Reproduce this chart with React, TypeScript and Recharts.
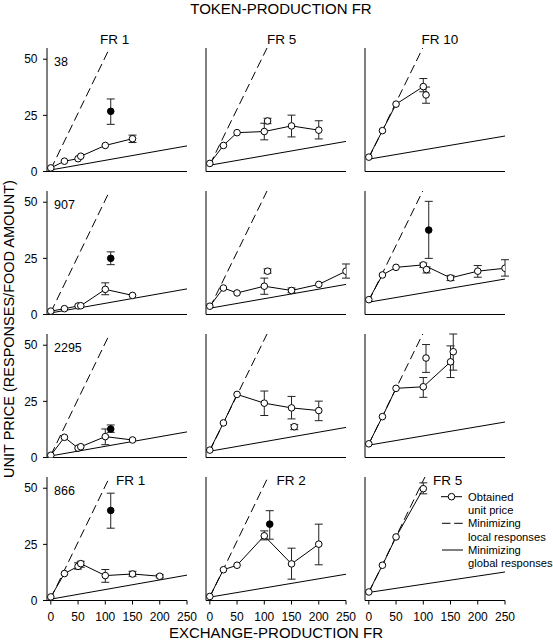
import { ComposedChart, ErrorBar, Line, Scatter, XAxis, YAxis } from "recharts";

type Pt = number[]; // [exchange FR, unit price, low, high]

const xTicks = [0, 50, 100, 150, 200, 250];
const yTicks = [0, 25, 50];
const topFr = ["FR 1", "FR 5", "FR 10"];
const bottomFr = ["FR 1", "FR 2", "FR 5"];
const subjects = ["38", "907", "2295", "866"];
const legendText = [
  ["Obtained", "unit price"],
  ["Minimizing", "local responses"],
  ["Minimizing", "global responses"],
];

// subject 38
const s38Fr1: Pt[] = [[0, 1.6], [25, 4.6], [50, 5.7], [55, 6.8], [100, 11.6], [150, 14.6, 12.9, 16.2]];
const s38Fr1Filled: Pt[] = [[110, 26.8, 21, 32.3]];
const s38Fr5: Pt[] = [[0, 3.6], [25, 11.6], [50, 17.3], [100, 17.8, 14.1, 21.5], [150, 20.3, 15.4, 25.1], [200, 18.4, 14.5, 22.6]];
const s38Fr5Extra: Pt[] = [[106, 22.5, 21.3, 23.7]];
const s38Fr10: Pt[] = [[0, 6.4], [25, 18.2], [50, 30], [100, 37.8, 35.5, 41.4]];
const s38Fr10Extra: Pt[] = [[105, 34.1, 30.4, 37.6]];

// subject 907
const s907Fr1: Pt[] = [[0, 1.5], [25, 2.6], [50, 3.8], [55, 3.9], [100, 11.2, 8.8, 14.1], [150, 8.5]];
const s907Fr1Filled: Pt[] = [[110, 25, 22.2, 27.9]];
const s907Fr5: Pt[] = [[0, 3.7], [25, 11.8], [50, 9.6], [100, 12.6, 9, 16.2], [150, 10.7, 9.7, 11.8], [200, 13.4], [250, 19.3, 16.2, 22.5]];
const s907Fr5Extra: Pt[] = [[106, 19.3, 18.4, 20.3]];
const s907Fr10: Pt[] = [[0, 6.6], [25, 17.6], [50, 21], [100, 22.1, 21, 22.9], [150, 16.3, 15.1, 17.4], [200, 19.3, 16.6, 21.8], [250, 20.6, 17.1, 24.4]];
const s907Fr10Extra: Pt[] = [[106, 20, 18.5, 21.2]];
const s907Fr10Filled: Pt[] = [[110, 37.6, 25, 50.4]];

// subject 2295
const s2295Fr1: Pt[] = [[0, 1], [25, 9], [50, 4.2], [55, 4.8], [100, 9.3, 5.7, 12.7], [150, 7.8]];
const s2295Fr1Filled: Pt[] = [[110, 12.7, 11.2, 14.5]];
const s2295Fr5: Pt[] = [[0, 3.3], [25, 15.4], [50, 28.1], [100, 24.2, 18.7, 29.6], [150, 22.1, 17.2, 27.2], [200, 20.9, 16.4, 25.1]];
const s2295Fr5Extra: Pt[] = [[155, 13.7, 12.4, 14.6]];
const s2295Fr10: Pt[] = [[0, 6.1], [25, 18.2], [50, 30.8], [100, 31.5, 26.8, 35.6], [150, 42.6, 35.6, 49.7]];
const s2295Fr10Extra: Pt[] = [[105, 44.3, 37.9, 50.3], [155, 47.1, 38.9, 55]];

// subject 866
const s866Fr1: Pt[] = [[0, 1.6], [25, 12], [50, 15.2, 14, 16.8], [55, 16.4, 14.8, 17.5], [100, 11.1, 8.1, 13.8], [150, 11.8, 10.8, 13], [200, 10.8, 10.1, 11.5]];
const s866Fr1Filled: Pt[] = [[110, 40.1, 32.2, 47.8]];
const s866Fr2: Pt[] = [[0, 1.8], [25, 13.7], [50, 15.7], [100, 28.8, 27, 31], [150, 16.3, 9.5, 23.3], [200, 25.1, 15.9, 34]];
const s866Fr2Filled: Pt[] = [[110, 34, 27.3, 40]];
const s866Fr5: Pt[] = [[0, 3.8], [25, 15.7], [50, 28.3], [100, 49.8, 47.5, 52.4]];

// predicted lines (end points)
const localFr1: Pt[] = [[0, 1], [108, 55]];
const localFr5: Pt[] = [[0, 3], [105, 55]];
const localFr10: Pt[] = [[0, 6], [99, 55]];
const globalFr1: Pt[] = [[0, 0.7], [250, 11.4]];
const globalFr5: Pt[] = [[0, 2.8], [250, 13.4]];
const globalFr10: Pt[] = [[0, 5.5], [250, 15.8]];
const local866Fr1: Pt[] = [[0, 1], [108, 55]];
const local866Fr2: Pt[] = [[0, 1.5], [107, 55]];
const local866Fr5: Pt[] = [[0, 3.5], [103, 55]];
const global866Fr1: Pt[] = [[0, 0.6], [250, 11.3]];
const global866Fr2: Pt[] = [[0, 1.5], [250, 11.7]];
const global866Fr5: Pt[] = [[0, 3.6], [250, 12.7]];

const FONT = "'Liberation Sans', Arial, sans-serif";
const plotLeft = [47, 205.5, 364.5];
const plotTop = [48.2, 191.2, 334.2, 477.2];
const PLOT_W = 140;
const PLOT_H = 123.5;
const Y_AXIS_W = 44;
const X_AXIS_H = 30;
const M_TOP = 4;
const M_RIGHT = 16;

const toRows = (pts: Pt[]) =>
  pts.map(([x, y, lo, hi]) => ({
    x,
    y,
    err: lo != null && hi != null ? [y - lo, hi - y] : undefined,
  }));

const openDot = (p: any) => (
  <circle cx={p.cx} cy={p.cy} r={3.3} fill="#fff" stroke="#000" strokeWidth={1} />
);
const filledDot = (p: any) => (
  <circle cx={p.cx} cy={p.cy} r={3.3} fill="#000" stroke="#000" strokeWidth={1} />
);

type PanelProps = {
  row: number;
  col: number;
  obtained: Pt[];
  extra?: Pt[];
  filled?: Pt[];
  local: Pt[];
  global: Pt[];
};

function Panel({ row, col, obtained, extra = [], filled = [], local, global }: PanelProps) {
  const tickFont = { fill: "#000", fontSize: 12, fontFamily: FONT };
  return (
    <div style={{ position: "absolute", left: plotLeft[col] - Y_AXIS_W, top: plotTop[row] - M_TOP }}>
      <ComposedChart
        width={Y_AXIS_W + PLOT_W + M_RIGHT}
        height={M_TOP + PLOT_H + X_AXIS_H}
        margin={{ top: M_TOP, right: M_RIGHT, bottom: 0, left: 0 }}
      >
        <XAxis
          type="number"
          dataKey="x"
          domain={[-7, 250]}
          ticks={xTicks}
          interval={0}
          allowDataOverflow
          height={X_AXIS_H}
          tickSize={4}
          tickMargin={8}
          tick={row === 3 ? tickFont : false}
          axisLine={{ stroke: "#000" }}
          tickLine={{ stroke: "#000" }}
        />
        <YAxis
          type="number"
          dataKey="y"
          domain={[0, 55]}
          ticks={yTicks}
          interval={0}
          allowDataOverflow
          width={Y_AXIS_W}
          tickSize={4}
          tickMargin={5.5}
          tick={col === 0 ? tickFont : false}
          axisLine={{ stroke: "#000" }}
          tickLine={{ stroke: "#000" }}
        />
        <Line
          data={toRows(global)}
          dataKey="y"
          stroke="#000"
          strokeWidth={1}
          dot={false}
          activeDot={false}
          isAnimationActive={false}
        />
        <Line
          data={toRows(local)}
          dataKey="y"
          stroke="#000"
          strokeWidth={1}
          strokeDasharray="9 4.5"
          dot={false}
          activeDot={false}
          isAnimationActive={false}
        />
        <Line
          data={toRows(obtained)}
          dataKey="y"
          stroke="#000"
          strokeWidth={1}
          dot={{ r: 3.3, fill: "#fff", stroke: "#000", strokeWidth: 1 }}
          activeDot={false}
          isAnimationActive={false}
        >
          <ErrorBar dataKey="err" direction="y" width={4} stroke="#222" strokeWidth={1} isAnimationActive={false} />
        </Line>
        {extra.length > 0 && (
          <Scatter data={toRows(extra)} dataKey="y" shape={openDot} isAnimationActive={false}>
            <ErrorBar dataKey="err" direction="y" width={4} stroke="#222" strokeWidth={1} isAnimationActive={false} />
          </Scatter>
        )}
        {filled.length > 0 && (
          <Scatter data={toRows(filled)} dataKey="y" shape={filledDot} isAnimationActive={false}>
            <ErrorBar dataKey="err" direction="y" width={4} stroke="#222" strokeWidth={1} isAnimationActive={false} />
          </Scatter>
        )}
      </ComposedChart>
    </div>
  );
}

const topFrX = [100, 267, 421.5];
const bottomFrX = [116, 276.5, 433];
const legendY = [496.7, 523.3, 550];

export default function App() {
  return (
    <div style={{ position: "absolute", left: 0, top: 0, width: 553, height: 643, background: "#fff", fontFamily: FONT }}>
      <Panel row={0} col={0} obtained={s38Fr1} filled={s38Fr1Filled} local={localFr1} global={globalFr1} />
      <Panel row={0} col={1} obtained={s38Fr5} extra={s38Fr5Extra} local={localFr5} global={globalFr5} />
      <Panel row={0} col={2} obtained={s38Fr10} extra={s38Fr10Extra} local={localFr10} global={globalFr10} />
      <Panel row={1} col={0} obtained={s907Fr1} filled={s907Fr1Filled} local={localFr1} global={globalFr1} />
      <Panel row={1} col={1} obtained={s907Fr5} extra={s907Fr5Extra} local={localFr5} global={globalFr5} />
      <Panel row={1} col={2} obtained={s907Fr10} extra={s907Fr10Extra} filled={s907Fr10Filled} local={localFr10} global={globalFr10} />
      <Panel row={2} col={0} obtained={s2295Fr1} filled={s2295Fr1Filled} local={localFr1} global={globalFr1} />
      <Panel row={2} col={1} obtained={s2295Fr5} extra={s2295Fr5Extra} local={localFr5} global={globalFr5} />
      <Panel row={2} col={2} obtained={s2295Fr10} extra={s2295Fr10Extra} local={localFr10} global={globalFr10} />
      <Panel row={3} col={0} obtained={s866Fr1} filled={s866Fr1Filled} local={local866Fr1} global={global866Fr1} />
      <Panel row={3} col={1} obtained={s866Fr2} filled={s866Fr2Filled} local={local866Fr2} global={global866Fr2} />
      <Panel row={3} col={2} obtained={s866Fr5} local={local866Fr5} global={global866Fr5} />

      <svg width={553} height={643} style={{ position: "absolute", left: 0, top: 0, pointerEvents: "none" }} fontFamily={FONT} fill="#000">
        <text x={281} y={14} textAnchor="middle" fontSize={15}>TOKEN-PRODUCTION FR</text>
        <text transform="translate(14,329) rotate(-90)" textAnchor="middle" fontSize={14.5}>
          UNIT PRICE (RESPONSES/FOOD AMOUNT)
        </text>
        <text x={276} y={638} textAnchor="middle" fontSize={15}>EXCHANGE-PRODUCTION FR</text>
        {topFr.map((t, i) => (
          <text key={"t" + i} x={topFrX[i]} y={44} fontSize={13.5}>{t}</text>
        ))}
        {bottomFr.map((t, i) => (
          <text key={"b" + i} x={bottomFrX[i]} y={484.5} fontSize={13.5}>{t}</text>
        ))}
        {subjects.map((s, i) => (
          <text key={"s" + i} x={54} y={66 + i * 143} fontSize={12.5}>{s}</text>
        ))}
        {/* legend */}
        <line x1={441} x2={462} y1={legendY[0]} y2={legendY[0]} stroke="#000" />
        <circle cx={451.5} cy={legendY[0]} r={3.3} fill="#fff" stroke="#000" />
        <line x1={442} x2={463} y1={legendY[1]} y2={legendY[1]} stroke="#000" strokeDasharray="8.5 3.7" />
        <line x1={442} x2={463} y1={legendY[2]} y2={legendY[2]} stroke="#000" />
        {legendText.map((lines, i) =>
          lines.map((t, j) => (
            <text key={i + "-" + j} x={468} y={legendY[i] + j * 13.3 + 4} fontSize={11.2}>{t}</text>
          ))
        )}
      </svg>
    </div>
  );
}
